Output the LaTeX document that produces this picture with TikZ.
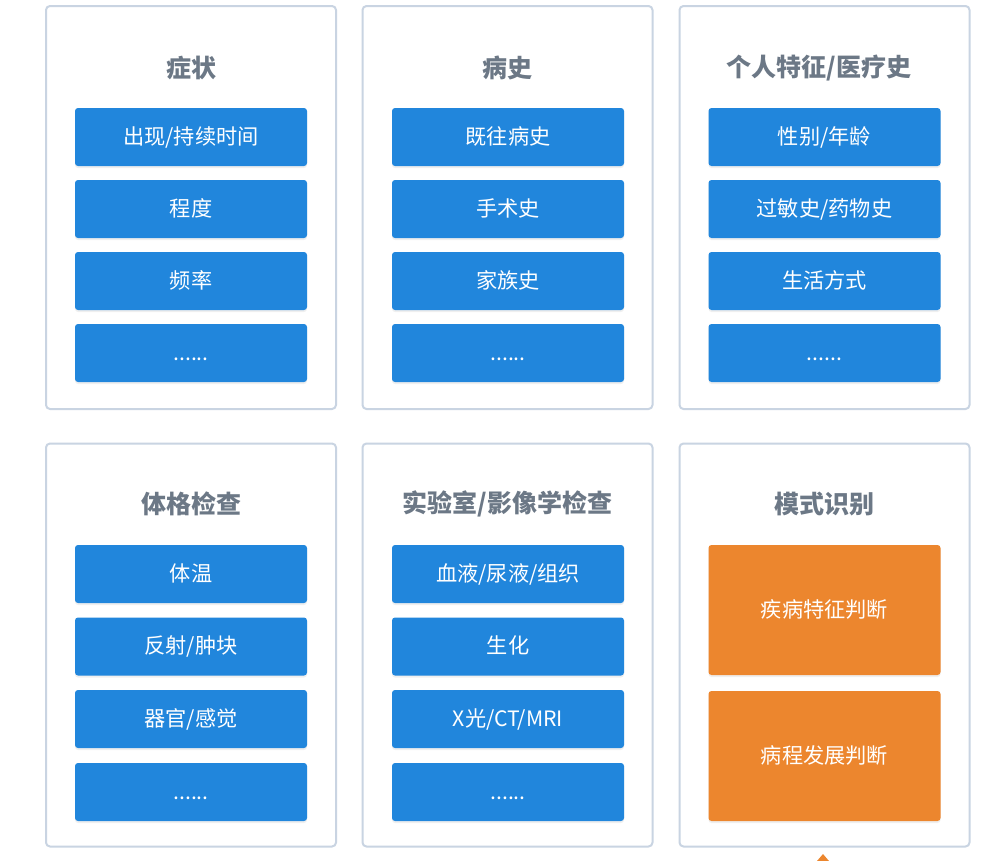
\documentclass[tikz,border=0pt]{standalone}
\usepackage{fontspec}
\setmainfont{Noto Sans CJK SC}
\usetikzlibrary{shadows}
\definecolor{panelborder}{HTML}{C9D4E2}
\definecolor{boxblue}{HTML}{2186DC}
\definecolor{boxorange}{HTML}{EC862E}
\definecolor{titlegray}{HTML}{6C7886}
\tikzset{
  panel/.style={draw=panelborder, line width=2pt, fill=white, rounded corners=4pt,
    minimum width=290pt, minimum height=403pt, inner sep=0pt},
  ptitle/.style={text=titlegray, font=\fontsize{25}{29}\selectfont\bfseries, inner sep=0pt},
  bluebox/.style={fill=boxblue, rounded corners=3pt, minimum width=232pt, minimum height=58pt,
    inner sep=0pt, text=white, font=\fontsize{21.2}{25}\selectfont,
    text height=17pt, text depth=3pt,
    drop shadow={opacity=0.12, shadow xshift=0pt, shadow yshift=-2pt}},
  orangebox/.style={bluebox, fill=boxorange, minimum height=130pt},
}
\begin{document}
\begin{tikzpicture}[x=1pt, y=-1pt]
\useasboundingbox[fill=white] (0,0) rectangle (999,860);
% panels
\node[panel] (p1) at (191,207.5) {};
\node[panel] (p2) at (507.5,207.5) {};
\node[panel] (p3) at (824.5,207.5) {};
\node[panel] (p4) at (191,645) {};
\node[panel] (p5) at (507.5,645) {};
\node[panel] (p6) at (824.5,645) {};
% titles
\node[ptitle] (t1) at (191,68) {症状};
\node[ptitle] (t2) at (507.5,68) {病史};
\node[ptitle] (t3) at (819,68) {个人特征/医疗史};
\node[ptitle] (t4) at (191,504) {体格检查};
\node[ptitle] (t5) at (507.5,504) {实验室/影像学检查};
\node[ptitle] (t6) at (824.5,504) {模式识别};
% column 1 top
\node[bluebox] (a1) at (191,137) {出现/持续时间};
\node[bluebox] (a2) at (191,209) {程度};
\node[bluebox] (a3) at (191,281) {频率};
\node[bluebox] (a4) at (191,353) {......};
% column 2 top
\node[bluebox] (b1) at (508,137) {既往病史};
\node[bluebox] (b2) at (508,209) {手术史};
\node[bluebox] (b3) at (508,281) {家族史};
\node[bluebox] (b4) at (508,353) {......};
% column 3 top
\node[bluebox] (c1) at (824.5,137) {性别/年龄};
\node[bluebox] (c2) at (824.5,209) {过敏史/药物史};
\node[bluebox] (c3) at (824.5,281) {生活方式};
\node[bluebox] (c4) at (824.5,353) {......};
% column 1 bottom
\node[bluebox] (d1) at (191,574) {体温};
\node[bluebox] (d2) at (191,646.5) {反射/肿块};
\node[bluebox] (d3) at (191,719) {器官/感觉};
\node[bluebox] (d4) at (191,792) {......};
% column 2 bottom
\node[bluebox] (e1) at (508,574) {血液/尿液/组织};
\node[bluebox] (e2) at (508,646.5) {生化};
\node[bluebox] (e3) at (508,719) {X光/CT/MRI};
\node[bluebox] (e4) at (508,792) {......};
% column 3 bottom
\node[orangebox] (f1) at (824.5,610) {疾病特征判断};
\node[orangebox] (f2) at (824.5,756) {病程发展判断};
% partial arrow tip at bottom
\coordinate (tip) at (823,854);
\fill[boxorange] (tip) -- ++(6,7) -- ++(-12,0) -- cycle;
\end{tikzpicture}
\end{document}
